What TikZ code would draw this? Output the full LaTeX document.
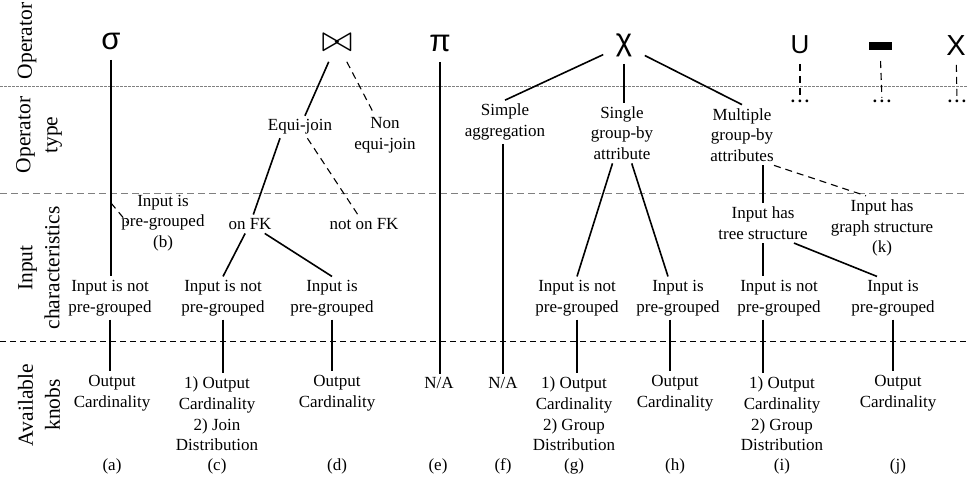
\documentclass[tikz,border=0pt]{standalone}
\usepackage{graphicx}
\usepackage{fontspec}
\setmainfont{Liberation Serif}
\newfontfamily\opfont{Liberation Sans}
\usepackage{tikz}
\usetikzlibrary{positioning}

\begin{document}
\begin{tikzpicture}[x=1pt,y=-1pt,line width=1.6pt]
    \tikzstyle{txt}=[align=center,inner sep=3pt,font=\fontsize{17}{20.6}\selectfont]
    \tikzstyle{tag}=[inner sep=1pt,font=\fontsize{17}{20.6}\selectfont]
    \tikzstyle{row}=[rotate=90,align=center,inner sep=0pt,font=\fontsize{21.5}{27}\selectfont]
    \tikzstyle{op}=[inner sep=0pt,minimum width=40pt,minimum height=36pt,font=\opfont\fontsize{31}{31}\selectfont]
    \tikzstyle{opsmall}=[op,font=\opfont\fontsize{26}{26}\selectfont]
    \tikzstyle{divider}=[line width=0.8pt,gray,dash pattern=on 7pt off 4pt]
    \tikzstyle{dashedge}=[line width=1.1pt,dash pattern=on 7pt off 5pt]

    \useasboundingbox (0,0) rectangle (968,483);

    % row separators
    \draw[divider,dash pattern=on 2.5pt off 1.5pt] (0,86) -- (968,86);
    \draw[divider] (0,193) -- (968,193);
    \draw[divider,black,dash pattern=on 6pt off 4pt] (0,341) -- (968,341);

    % row titles
    \node[row] (L0) at (27,41) {Operator};
    \node[row] (L1) at (39,135) {Operator\\type};
    \node[row] (L2) at (39,268) {Input\\characteristics};
    \node[row] (L3) at (39,405) {Available\\knobs};

    % operators
    \node[op] (A0) at (111,41) {σ};
    \node[op,font=\normalsize] (B0) at (337,43) {\scalebox{3.7}{$\bowtie$}};
    \node[op] (E0) at (440,43) {π};
    \node[op] (G0) at (624,45) {χ};
    \node[opsmall] (U0) at (800,45) {U};
    \node[fill=black,minimum width=23pt,minimum height=8pt,inner sep=0pt,outer ysep=11pt] (M0) at (880,46) {};
    \node[opsmall,font=\opfont\fontsize{29}{29}\selectfont] (X0) at (956,46) {X};
    \node[txt,inner sep=1pt] (U1) at (800,101) {\textbf{.\,.\,.}};
    \node[txt,inner sep=1pt] (M1) at (882,101) {\textbf{.\,.\,.}};
    \node[txt,inner sep=1pt] (X1) at (957,101) {\textbf{.\,.\,.}};

    % selection
    \coordinate (A4) at (111,203);
    \node[txt] (A1) at (110,298) {Input is not\\pre-grouped};
    \node[txt] (A3) at (163,223) {Input is\\pre-grouped\\(b)};
    \node[txt] (A2) at (112,393) {Output\\Cardinality};

    % join
    \node[txt] (B1) at (300,127) {Equi-join};
    \node[txt] (B2) at (385,135) {Non\\equi-join};
    \node[txt] (B3) at (250,224) {on FK};
    \node[txt] (B4) at (364,224) {not on FK};
    \node[txt] (C1) at (223,298) {Input is not\\pre-grouped};
    \node[txt] (D1) at (332,298) {Input is\\pre-grouped};
    \node[txt] (C2) at (217,414) {1) Output\\Cardinality\\2) Join\\Distribution};
    \node[txt] (D2) at (337,393) {Output\\Cardinality};

    % projection
    \node[txt] (E1) at (439,383) {N/A};

    % grouping
    \node[txt] (F1) at (505,122) {Simple\\aggregation};
    \node[txt] (F2) at (503,383) {N/A};
    \node[txt] (G1) at (622,133) {Single\\group-by\\attribute};
    \node[txt] (G2) at (577,298) {Input is not\\pre-grouped};
    \node[txt] (G3) at (574,414) {1) Output\\Cardinality\\2) Group\\Distribution};
    \node[txt] (H1) at (678,298) {Input is\\pre-grouped};
    \node[txt] (H2) at (675,393) {Output\\Cardinality};
    \node[txt] (I0) at (742,135) {Multiple\\group-by\\attributes};
    \node[txt] (I1) at (763,223) {Input has\\tree structure};
    \node[txt] (K1) at (882,228) {Input has\\graph structure\\(k)};
    \node[txt] (I2) at (779,298) {Input is not\\pre-grouped};
    \node[txt] (I3) at (782,414) {1) Output\\Cardinality\\2) Group\\Distribution};
    \node[txt] (J1) at (893,298) {Input is\\pre-grouped};
    \node[txt] (J2) at (898,393) {Output\\Cardinality};

    % case tags
    \node[tag] (ta) at (112,466) {(a)};
    \node[tag] (tc) at (217,466) {(c)};
    \node[tag] (td) at (337,466) {(d)};
    \node[tag] (te) at (438,466) {(e)};
    \node[tag] (tf) at (503,466) {(f)};
    \node[tag] (tg) at (574,466) {(g)};
    \node[tag] (th) at (675,466) {(h)};
    \node[tag] (ti) at (782,466) {(i)};
    \node[tag] (tj) at (898,466) {(j)};

    \path[draw]
    (A0) edge (A0 |- A1.north)
    (A1) edge (A1 |- A2.north)
    (B0) edge (B1)
    ([xshift=-20pt]B1.south) edge (B3)
    (B3) edge (C1.north)
    (B3) edge (D1.north)
    (C1) edge (C1 |- C2.north)
    (D1) edge (D1 |- D2.north)
    (E0) edge (E0 |- E1.north)
    (G0) edge (F1.north)
    (F1.south -| F2) edge (F2)
    (G0) edge (G0 |- G1.north)
    (G1) edge (G2.north)
    (G1) edge ([xshift=-10pt]H1.north)
    (G2) edge (G2 |- G3.north)
    ([xshift=-8pt]H1.south) edge ([xshift=-8pt]H1.south |- H2.north)
    (G0) edge (I0.north)
    (I0.south -| I1) edge (I1)
    (I1) edge (I1 |- I2.north)
    (I2.south -| I1) edge (I1 |- I3.north)
    ([xshift=31pt]I1.south) edge ([xshift=-16pt]J1.north)
    (J1) edge (J1 |- J2.north)
    ;

    \path[draw,dashedge]
    (A4) edge ([xshift=10pt]A3.west)
    (B0) edge (B2)
    (B1) edge (B4)
    ([xshift=32pt]I0.south) edge ([xshift=-16pt]K1.north)
    (U0) edge (U1)
    (M0) edge (M1)
    (X0) edge (X1)
    ;
\end{tikzpicture}
\end{document}
